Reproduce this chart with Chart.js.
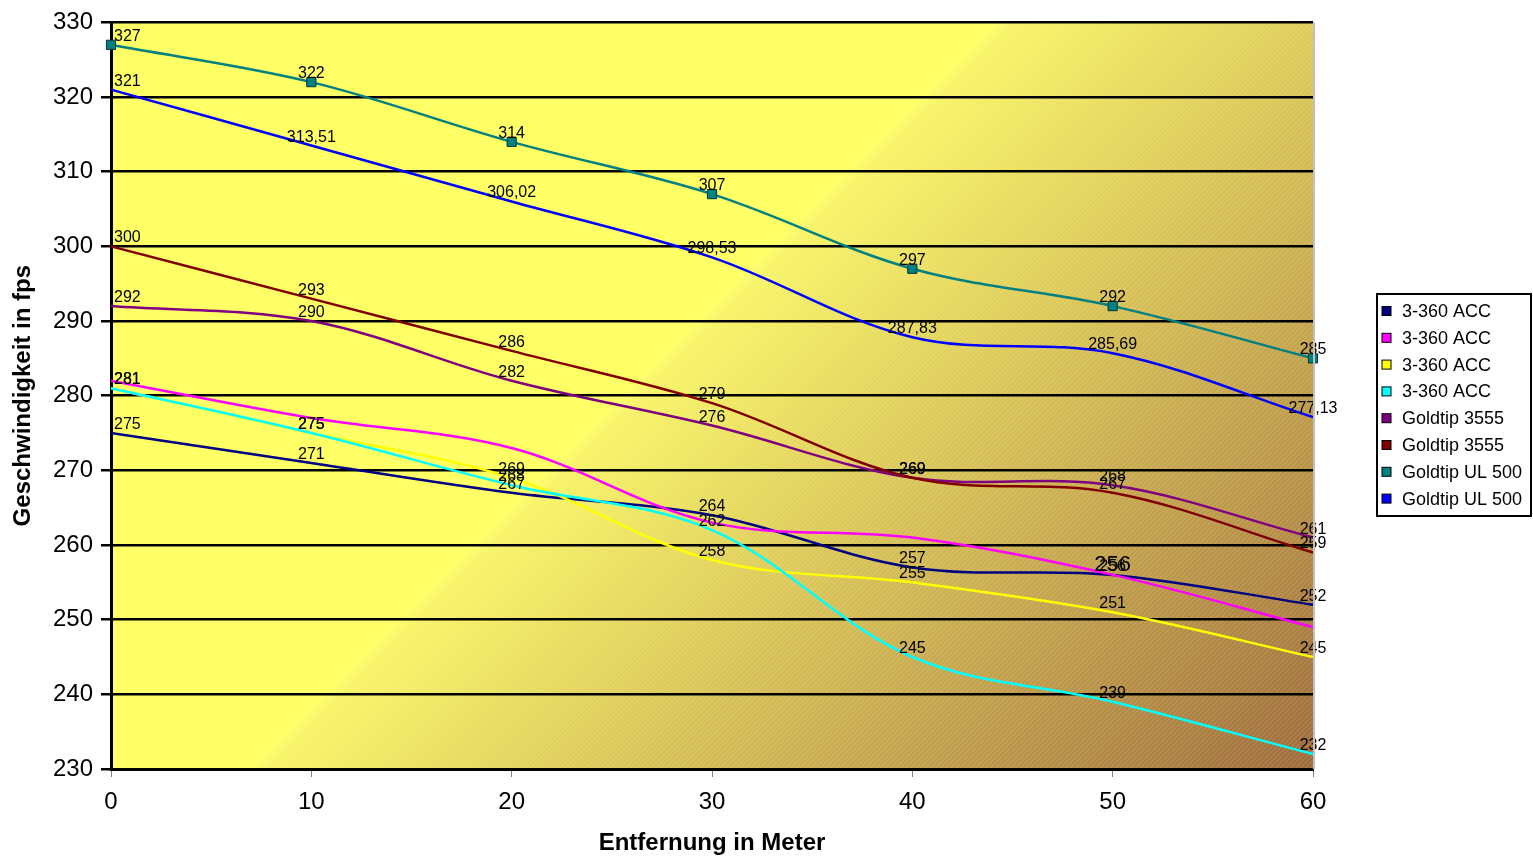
<!doctype html>
<html lang="de">
<head>
<meta charset="utf-8">
<title>Geschwindigkeit</title>
<script src="https://cdn.jsdelivr.net/npm/chart.js@4.4.1/dist/chart.umd.min.js"></script>
<style>
  body { margin: 0; background: #fff; }
  #wrap { width: 1533px; height: 856px; }
</style>
</head>
<body>
<div id="wrap"><canvas id="chart"></canvas></div>
<script>
// distances in metres
const distances = [0, 10, 20, 30, 40, 50, 60];
const seriesNames = ['3-360 ACC', '3-360 ACC', '3-360 ACC', '3-360 ACC',
    'Goldtip 3555', 'Goldtip 3555', 'Goldtip UL 500', 'Goldtip UL 500'];
const seriesColors = ['#000080', '#FF00FF', '#FFFF00', '#00FFFF',
    '#800080', '#800000', '#008080', '#0000FF'];

// speeds in fps
const acc1 = [275, 271, 267, 264, 257, 256, 252];
const acc2 = [282, 277, 273, 263, 261, 256, 249];
const acc3 = [281, 275, 269, 258, 255, 251, 245];
const acc4 = [281, 275, 268, 262, 245, 239, 232];
const gt3555a = [292, 290, 282, 276, 269, 268, 261];
const gt3555b = [300, 293, 286, 279, 269, 267, 259];
const ul500a = [327, 322, 314, 307, 297, 292, 285];
const ul500b = [321, 313.51, 306.02, 298.53, 287.83, 285.69, 277.13];

const seriesValues = [acc1, acc2, acc3, acc4, gt3555a, gt3555b, ul500a, ul500b];

const FONT = '"Liberation Sans", Arial, sans-serif';

const datasets = seriesValues.map((vals, i) => ({
    label: seriesNames[i],
    data: vals.map((v, k) => ({ x: distances[k], y: v })),
    borderColor: seriesColors[i],
    backgroundColor: seriesColors[i],
    borderWidth: 2.5,
    tension: 0.35,
    pointRadius: i === 6 ? 6.5 : 0,
    pointStyle: 'rect',
    pointBorderColor: '#003838',
    pointBorderWidth: 1,
    clip: false,
    order: 8 - i
}));

// the pink series only shows one (big) label
function labelFont(dsIndex, k) {
    if (dsIndex === 1) return k === 5 ? '22px ' + FONT : null;
    return '16px ' + FONT;
}

const backgroundPlugin = {
    id: 'plotBackground',
    beforeDraw(chart) {
        const { ctx, chartArea: a } = chart;
        const w = a.right - a.left, h = a.bottom - a.top;
        const d = (w + h) / 2;
        const edge = 0.454;
        ctx.save();
        const g = ctx.createLinearGradient(a.left, a.top, a.left + d, a.top + d);
        g.addColorStop(0, '#FFFF66');
        g.addColorStop(edge, '#FFFF66');
        g.addColorStop(edge + 0.01, '#F8F466');
        g.addColorStop(1, '#9E6A3A');
        ctx.fillStyle = g;
        ctx.fillRect(a.left, a.top, w, h);
        // diagonal hatch on the gradient part
        ctx.beginPath();
        ctx.rect(a.left, a.top, w, h);
        ctx.clip();
        const s0 = edge * 2 * d;
        ctx.beginPath();
        ctx.moveTo(a.left + s0, a.top);
        ctx.lineTo(a.left + 2 * d + h, a.top);
        ctx.lineTo(a.left + 2 * d + h, a.bottom);
        ctx.lineTo(a.left + s0 - h, a.bottom);
        ctx.closePath();
        ctx.clip();
        ctx.strokeStyle = 'rgba(255,255,255,0.22)';
        ctx.lineWidth = 1;
        ctx.beginPath();
        for (let s = 0; s < w + h + 10; s += 5) {
            ctx.moveTo(a.left + s, a.top);
            ctx.lineTo(a.left + s - h, a.bottom);
        }
        ctx.stroke();
        ctx.restore();
    },
    afterDraw(chart) {
        const { ctx, chartArea: a } = chart;
        ctx.save();
        ctx.strokeStyle = '#C0C0C0';
        ctx.lineWidth = 2;
        ctx.beginPath();
        ctx.moveTo(a.right + 1, a.top);
        ctx.lineTo(a.right + 1, a.bottom);
        ctx.stroke();
        ctx.restore();
    }
};

const labelPlugin = {
    id: 'valueLabels',
    afterDatasetsDraw(chart) {
        const { ctx, chartArea: a } = chart;
        ctx.save();
        ctx.fillStyle = '#000';
        ctx.textBaseline = 'alphabetic';
        chart.data.datasets.forEach((ds, i) => {
            const meta = chart.getDatasetMeta(i);
            meta.data.forEach((pt, k) => {
                const font = labelFont(i, k);
                if (!font) return;
                ctx.font = font;
                const txt = String(seriesValues[i][k]).replace('.', ',');
                const tw = ctx.measureText(txt).width;
                let x = pt.x - tw / 2;
                if (x < a.left + 3) x = a.left + 3;
                ctx.fillText(txt, x, pt.y - 4);
            });
        });
        ctx.restore();
    }
};

const legendPlugin = {
    id: 'boxLegend',
    afterDraw(chart) {
        const { ctx } = chart;
        const left = 1377, top = 294, width = 154, height = 222;
        ctx.save();
        ctx.fillStyle = '#fff';
        ctx.fillRect(left, top, width, height);
        ctx.strokeStyle = '#000';
        ctx.lineWidth = 2;
        ctx.strokeRect(left, top, width, height);
        ctx.font = '18px ' + FONT;
        ctx.textBaseline = 'middle';
        seriesNames.forEach((name, i) => {
            const y = top + 17 + i * 26.8;
            ctx.fillStyle = seriesColors[i];
            ctx.fillRect(left + 5, y - 4.5, 9, 9);
            ctx.strokeStyle = '#000';
            ctx.lineWidth = 1;
            ctx.strokeRect(left + 5, y - 4.5, 9, 9);
            ctx.fillStyle = '#000';
            ctx.fillText(name, left + 25, y + 1);
        });
        ctx.restore();
    }
};

new Chart(document.getElementById('chart'), {
    type: 'line',
    data: { datasets },
    plugins: [backgroundPlugin, labelPlugin, legendPlugin],
    options: {
        responsive: true,
        maintainAspectRatio: false,
        animation: false,
        layout: { padding: { top: 12, right: 220, left: 0, bottom: 0 } },
        plugins: {
            legend: { display: false },
            tooltip: { enabled: false }
        },
        scales: {
            x: {
                type: 'linear',
                min: 0,
                max: 60,
                afterFit(scale) { scale.height = 87; },
                ticks: { stepSize: 10, color: '#000', font: { size: 24, family: FONT }, padding: 11 },
                grid: { color: 'transparent', tickColor: '#808080', tickLength: 8, drawOnChartArea: false },
                border: { color: '#000', width: 3 },
                title: {
                    display: true,
                    text: 'Entfernung in Meter',
                    color: '#000',
                    font: { size: 24, weight: 'bold', family: FONT },
                    padding: { top: 12, bottom: -2 }
                }
            },
            y: {
                min: 230,
                max: 330,
                afterFit(scale) { scale.width = 111; },
                ticks: { stepSize: 10, color: '#000', font: { size: 24, family: FONT }, padding: 8 },
                grid: { color: '#000', lineWidth: 2.5, tickColor: '#000', tickLength: 10 },
                border: { color: '#000', width: 3 },
                title: {
                    display: true,
                    text: 'Geschwindigkeit in fps',
                    color: '#000',
                    font: { size: 24, weight: 'bold', family: FONT },
                    padding: { top: 9, bottom: 8 }
                }
            }
        }
    }
});
</script>
</body>
</html>
